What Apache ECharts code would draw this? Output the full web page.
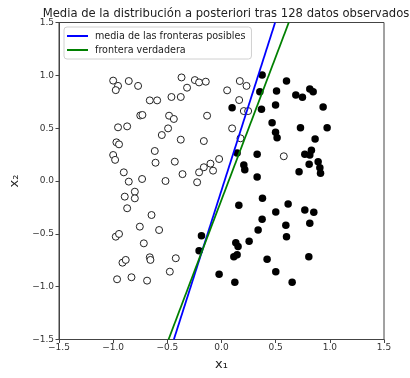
<!DOCTYPE html>
<html>
<head>
<meta charset="utf-8">
<script src="https://cdn.jsdelivr.net/npm/echarts@6/dist/echarts.min.js"></script>
<style>html,body{margin:0;padding:0;background:#fff;}#c{width:410px;height:378px;}</style>
</head>
<body>
<div id="c"></div>
<script>
// Data
const titleText = 'Media de la distribución a posteriori tras 128 datos observados';
const legendNames = ['media de las fronteras posibles', 'frontera verdadera'];
const axisTicks = [-1.5, -1.0, -0.5, 0.0, 0.5, 1.0, 1.5];

// class 0 (open circles)
const openPoints = [
  [-1.00, 0.95], [-0.955, 0.90], [-0.976, 0.86], [-0.856, 0.946], [-0.77, 0.90],
  [-0.662, 0.763], [-0.594, 0.763], [-0.462, 0.795], [-0.376, 0.795], [-0.369, 0.98],
  [-0.75, 0.62], [-0.73, 0.625], [-0.484, 0.618], [-0.44, 0.587], [-0.955, 0.508],
  [-0.871, 0.517], [-0.493, 0.498], [-0.551, 0.435], [-0.376, 0.391], [-0.97, 0.366],
  [-0.946, 0.347], [-0.616, 0.284], [-1.0, 0.246], [-0.982, 0.20], [-0.609, 0.173],
  [-0.431, 0.183], [-0.902, 0.082], [-0.856, -0.006], [-0.733, 0.019], [-0.517, 0.0],
  [-0.36, 0.065], [-0.246, 0.955], [-0.207, 0.933], [-0.145, 0.94], [-0.318, 0.883],
  [0.169, 0.946], [0.231, 0.90], [0.052, 0.858], [0.163, 0.766], [0.206, 0.662],
  [0.246, 0.662], [-0.133, 0.618], [0.098, 0.498], [0.175, 0.404], [-0.163, 0.378],
  [-0.022, 0.208], [-0.102, 0.164], [-0.163, 0.13], [-0.078, 0.098], [-0.207, 0.082],
  [-0.225, -0.012], [0.575, 0.234], [-0.893, -0.148], [-0.80, -0.101], [-0.80, -0.164],
  [-0.871, -0.258], [-0.646, -0.322], [-0.754, -0.432], [-0.576, -0.464], [-0.976, -0.527],
  [-0.946, -0.501], [-0.717, -0.59], [-0.914, -0.773], [-0.884, -0.747], [-0.662, -0.722],
  [-0.656, -0.747], [-0.422, -0.731], [-0.477, -0.858], [-0.964, -0.93], [-0.831, -0.911],
  [-0.687, -0.943]
];

// class 1 (filled circles)
const filledPoints = [
  [0.375, 1.003], [0.354, 0.845], [0.098, 0.694], [0.369, 0.678], [0.144, 0.265],
  [0.329, 0.252], [0.206, 0.151], [0.215, 0.107], [0.329, 0.038], [0.60, 0.946],
  [0.508, 0.851], [0.686, 0.814], [0.747, 0.792], [0.815, 0.87], [0.846, 0.845],
  [0.499, 0.719], [0.938, 0.70], [0.467, 0.552], [0.499, 0.461], [0.513, 0.41],
  [0.729, 0.504], [0.975, 0.504], [0.864, 0.397], [0.769, 0.252], [0.83, 0.29],
  [0.815, 0.246], [0.809, 0.158], [0.892, 0.183], [0.908, 0.126], [0.914, 0.073],
  [0.716, 0.088], [0.16, -0.23], [0.378, -0.164], [0.375, -0.362], [0.338, -0.464],
  [0.255, -0.571], [0.132, -0.584], [0.153, -0.621], [0.144, -0.697], [0.114, -0.716],
  [-0.185, -0.517], [-0.207, -0.659], [-0.022, -0.883], [0.123, -0.959], [0.615, -0.218],
  [0.501, -0.293], [0.769, -0.274], [0.852, -0.296], [0.594, -0.419], [0.815, -0.40],
  [0.60, -0.527], [0.421, -0.741], [0.806, -0.716], [0.501, -0.858], [0.652, -0.959]
];

// boundary lines (endpoints at the bottom and top of the plotted range)
const meanBoundary = [[-0.44, -1.5], [0.495, 1.5]];
const trueBoundary = [[-0.489, -1.5], [0.621, 1.5]];

const fmt = v => v.toFixed(1).replace('-', '\u2212');
const FONT = 'DejaVu Sans';

const chart = echarts.init(document.getElementById('c'), null, {renderer: 'canvas'});
chart.setOption({
  animation: false,
  backgroundColor: '#fff',
  textStyle: {fontFamily: FONT},
  title: {
    text: titleText,
    left: 221, top: 3, textAlign: 'center',
    textStyle: {fontFamily: FONT, fontSize: 11.6, fontWeight: 'normal', color: '#222'}
  },
  grid: {left: 59, right: 26, top: 22.5, bottom: 38.5, show: true, borderColor: '#444', borderWidth: 1, backgroundColor: 'transparent'},
  legend: {
    data: legendNames,
    orient: 'vertical',
    left: 64, top: 27,
    padding: [3, 6, 3, 3],
    itemGap: 2,
    itemWidth: 21, itemHeight: 2,
    icon: 'rect',
    backgroundColor: '#fff',
    borderColor: '#d0d0d0', borderWidth: 1, borderRadius: 3,
    textStyle: {fontFamily: FONT, fontSize: 9.6, color: '#222', lineHeight: 12, padding: [0,0,0,2]}
  },
  xAxis: {
    type: 'value', min: axisTicks[0], max: axisTicks[axisTicks.length - 1], interval: 0.5,
    name: 'x\u2081', nameLocation: 'middle', nameGap: 19,
    nameTextStyle: {fontFamily: FONT, fontSize: 13, color: '#222'},
    axisLine: {show: true, onZero: false, lineStyle: {color: '#444'}},
    axisTick: {show: true, length: 3.5, lineStyle: {color: '#444'}},
    axisLabel: {formatter: fmt, fontFamily: FONT, fontSize: 9, color: '#333', margin: 4},
    splitLine: {show: false}
  },
  yAxis: {
    type: 'value', min: axisTicks[0], max: axisTicks[axisTicks.length - 1], interval: 0.5,
    name: 'x\u2082', nameLocation: 'middle', nameGap: 37,
    nameTextStyle: {fontFamily: FONT, fontSize: 13, color: '#222'},
    axisLine: {show: true, onZero: false, lineStyle: {color: '#444'}},
    axisTick: {show: true, length: 3.5, lineStyle: {color: '#444'}},
    axisLabel: {formatter: fmt, fontFamily: FONT, fontSize: 9, color: '#333', margin: 5},
    splitLine: {show: false}
  },
  series: [
    {
      name: 'class0', type: 'scatter', data: openPoints, symbol: 'circle', symbolSize: 7,
      itemStyle: {color: '#fff', borderColor: '#222', borderWidth: 1, opacity: 1}, z: 3
    },
    {
      name: 'class1', type: 'scatter', data: filledPoints, symbol: 'circle', symbolSize: 7.5,
      itemStyle: {color: '#000', opacity: 1}, z: 3
    },
    {
      name: legendNames[0], type: 'line', data: meanBoundary, showSymbol: false, symbol: 'none',
      lineStyle: {color: '#0000ff', width: 1.8}, itemStyle: {color: '#0000ff'}, z: 4, clip: true
    },
    {
      name: legendNames[1], type: 'line', data: trueBoundary, showSymbol: false, symbol: 'none',
      lineStyle: {color: '#008000', width: 1.8}, itemStyle: {color: '#008000'}, z: 4, clip: true
    }
  ]
});
</script>
</body>
</html>
